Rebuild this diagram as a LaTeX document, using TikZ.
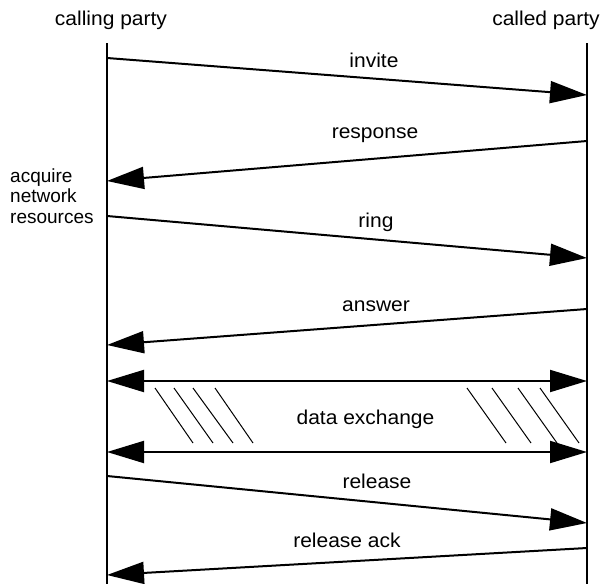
\documentclass[tikz,border=0pt]{standalone}
\usepackage{fontspec}
\setmainfont{Liberation Sans}[FakeStretch=1.05]
\newfontfamily\notefont{Liberation Sans}
\usetikzlibrary{arrows.meta}
\begin{document}
\begin{tikzpicture}[x=1pt,y=-1pt,
  lifeline/.style={line width=2.4pt},
  msg/.style={line width=2pt,-{Triangle[length=37pt,width=22pt]}},
  duplex/.style={line width=2pt,{Triangle[length=37pt,width=22pt]}-{Triangle[length=37pt,width=22pt]}},
  lbl/.style={font=\fontsize{20}{20.5}\selectfont, anchor=base, inner sep=0pt},
  note/.style={font=\notefont\fontsize{19}{20.5}\selectfont, inner sep=0pt, align=left},
  hatch/.style={line width=1pt}]
\useasboundingbox (0,0) rectangle (603,584);

% party headings
\node[lbl] (caller) at (111,25) {calling party};
\node[lbl] (callee) at (546,25) {called party};

% lifelines
\coordinate (Ltop) at (107,43);
\coordinate (Lbot) at (107,584);
\coordinate (Rtop) at (587,43);
\coordinate (Rbot) at (587,584);
\draw[lifeline] (Ltop) -- (Lbot);
\draw[lifeline] (Rtop) -- (Rbot);

% message end points on the lifelines
\coordinate (inviteA)   at (107,58);
\coordinate (inviteB)   at (587,95);
\coordinate (respA)     at (587,141);
\coordinate (respB)     at (107,181);
\coordinate (ringA)     at (107,216);
\coordinate (ringB)     at (587,258);
\coordinate (answerA)   at (587,309);
\coordinate (answerB)   at (107,345);
\coordinate (dataL1)    at (107,381);
\coordinate (dataR1)    at (587,381);
\coordinate (dataL2)    at (107,452);
\coordinate (dataR2)    at (587,452);
\coordinate (relA)      at (107,476);
\coordinate (relB)      at (587,523);
\coordinate (ackA)      at (587,548);
\coordinate (ackB)      at (107,575);

% messages
\draw[msg] (inviteA) -- (inviteB);
\node[lbl] (invite) at (374,67) {invite};
\draw[msg] (respA) -- (respB);
\node[lbl] (response) at (375,138) {response};
% the base anchor of a multi-line node sits on its last line
\node[note, anchor=base west] (acquire) at (10,223) {acquire\\network\\resources};
\draw[msg] (ringA) -- (ringB);
\node[lbl] (ring) at (376,227) {ring};
\draw[msg] (answerA) -- (answerB);
\node[lbl] (answer) at (376,311) {answer};

% data exchange phase
\draw[duplex] (dataL1) -- (dataR1);
\draw[duplex] (dataL2) -- (dataR2);
\node[lbl] (data) at (365.5,424) {data exchange};
\foreach \t/\b in {155/193, 174/213, 193/233, 215/253, 467/506, 492/531, 518/557, 540/579}
  \draw[hatch] (\t,388) -- (\b,443);

% release phase
\draw[msg] (relA) -- (relB);
\node[lbl] (release) at (377,488) {release};
\draw[msg] (ackA) -- (ackB);
\node[lbl] (ack) at (347,547) {release ack};
\end{tikzpicture}
\end{document}
